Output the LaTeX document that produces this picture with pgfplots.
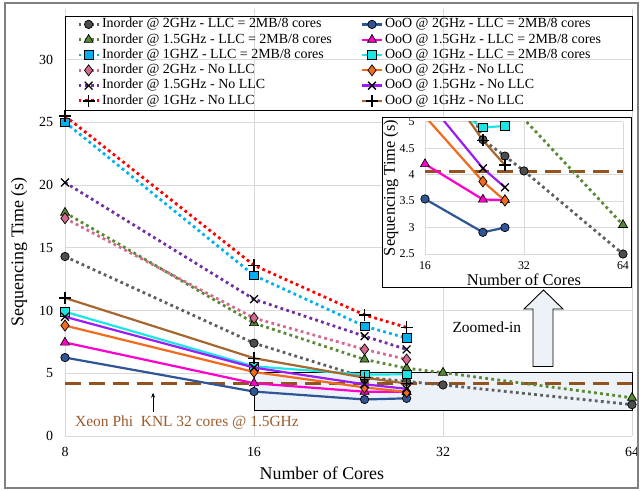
\documentclass[border=0pt]{standalone}
\usepackage{pgfplots}
\pgfplotsset{compat=1.18}
\usepackage{pgfplotstable}
\usepackage{fontspec}
\setmainfont{Liberation Serif}
\usetikzlibrary{arrows.meta}

\definecolor{cIaL}{HTML}{5F5F5F}\definecolor{cIaM}{HTML}{4D4D4D}
\definecolor{cIb}{HTML}{5A8A35}
\definecolor{cIc}{HTML}{00B0F0}
\definecolor{cId}{HTML}{D56A8E}
\definecolor{cIe}{HTML}{7030A0}
\definecolor{cIf}{HTML}{FF0000}
\definecolor{cOa}{HTML}{2F5597}
\definecolor{cOb}{HTML}{FF00CC}
\definecolor{cOc}{HTML}{1AE6E6}
\definecolor{cOd}{HTML}{F26B1D}
\definecolor{cOe}{HTML}{9B1DF5}
\definecolor{cOf}{HTML}{A5672F}
\definecolor{knlc}{HTML}{94521F}
\definecolor{knltext}{HTML}{9C5A2C}
\definecolor{gridc}{HTML}{D9D9D9}
\definecolor{boxfill}{HTML}{EDF2F9}
\definecolor{borderc}{HTML}{808080}

% Inorder series
\pgfplotstableread{
x y
8 14.3
16 7.4
24 4.66
28 4.35
32 4.07
64 2.5
}\dIa
\pgfplotstableread{
x y
8 17.8
16 9.0
24 6.1
28 5.4
32 5.05
64 3.05
}\dIb
\pgfplotstableread{
x y
8 25.0
16 12.8
24 8.75
28 7.8
}\dIc
\pgfplotstableread{
x y
8 17.35
16 9.4
24 6.9
28 6.1
}\dId
\pgfplotstableread{
x y
8 20.2
16 10.9
24 7.95
28 6.9
}\dIe
\pgfplotstableread{
x y
8 25.5
16 13.6
24 9.65
28 8.65
}\dIf
% OoO series
\pgfplotstableread{
x y
8 6.25
16 3.54
24 2.91
28 3.0
}\dOa
\pgfplotstableread{
x y
8 7.45
16 4.2
24 3.53
28 3.52
}\dOb
\pgfplotstableread{
x y
8 9.9
16 5.55
24 4.89
28 4.92
}\dOc
\pgfplotstableread{
x y
8 8.8
16 5.1
24 3.87
28 3.51
}\dOd
\pgfplotstableread{
x y
8 9.5
16 5.45
24 4.12
28 3.76
}\dOe
\pgfplotstableread{
x y
8 11.0
16 6.2
24 4.65
28 4.18
}\dOf

\pgfplotsset{
 inord/.style={line width=2.8bp, dash pattern=on 2.8bp off 3.3bp},
 ooo/.style={line width=2.2bp, solid},
 mkf/.style={mark options={solid, fill=#1, draw=black, line width=0.7bp}},
 mkl/.style={mark options={solid, draw=black, line width=1.3bp}},
 sIa/.style={inord, color=cIaL, mark=*, mark size=4.2bp, mkf=cIaM},
 sIb/.style={inord, color=cIb, mark=triangle*, mark size=5.2bp, mkf=cIb},
 sIc/.style={inord, color=cIc, mark=square*, mark size=4.3bp, mkf=cIc},
 sId/.style={inord, color=cId, mark=diamond*, mark size=5.5bp, mkf=cId},
 sIe/.style={inord, color=cIe, mark=x, mark size=5.5bp, mkl},
 sIf/.style={inord, color=cIf, mark=+, mark size=6bp, mkl},
 sOa/.style={ooo, color=cOa, mark=*, mark size=4.2bp, mkf=cOa},
 sOb/.style={ooo, color=cOb, mark=triangle*, mark size=5.2bp, mkf=cOb},
 sOc/.style={ooo, color=cOc, mark=square*, mark size=4.3bp, mkf=cOc},
 sOd/.style={ooo, color=cOd, mark=diamond*, mark size=5.5bp, mkf=cOd},
 sOe/.style={ooo, color=cOe, mark=x, mark size=5.5bp, mkl},
 sOf/.style={ooo, color=cOf, mark=+, mark size=6bp, mkl},
 knl/.style={color=knlc, line width=3bp, dash pattern=on 16bp off 8bp},
}

\begin{document}
\begin{tikzpicture}
\begin{axis}[
 name=main,
 scale only axis, width=567bp, height=426.7bp,
 xmode=log, log basis x=2, xmin=8, xmax=64,
 xtick={8,16,32,64}, xticklabels={8,16,32,64},
 ymin=0, ymax=34, ytick={0,5,...,30},
 grid=major, major grid style={color=gridc, line width=0.9bp},
 axis line style={draw=none}, major tick length=0,
 clip mode=individual,
 tick label style={font=\fontsize{14}{16}\selectfont},
 /pgf/number format/assume math mode=true,
 xticklabel style={yshift=-7.4bp}, yticklabel style={xshift=-8.3bp},
 xlabel={Number of Cores}, ylabel={Sequencing Time (s)},
 label style={font=\fontsize{18}{20}\selectfont},
 xlabel style={at={(axis description cs:0.453,-0.0867)}, anchor=center},
 ylabel style={at={(axis description cs:-0.081,0.432)}, anchor=center},
 legend columns=2,
 legend cell align=left,
 legend style={at={(0.0212,0.983)}, anchor=north west, draw=none, fill=none,
   inner sep=0pt, font=\fontsize{14}{15}\selectfont,
   nodes={inner xsep=2bp, inner ysep=0.7bp, text height=10.3bp, text depth=3.6bp},
   /tikz/every even column/.append style={column sep=27bp}},
 legend image code/.code={\draw[#1, mark repeat=2, mark phase=2] plot coordinates {(0bp,0bp) (10bp,0bp) (20bp,0bp)};},
]
% zoom region rectangle
\draw[fill=boxfill, draw=black, line width=0.9bp] (axis cs:16,2.0) rectangle (axis cs:64,5.05);
\addplot[knl, forget plot] coordinates {(8,4.15) (64,4.15)};

\addplot[sIa] table {\dIa}; \addlegendentry{Inorder @ 2GHz - LLC = 2MB/8 cores}
\addplot[sOa] table {\dOa}; \addlegendentry{OoO @ 2GHz - LLC = 2MB/8 cores}
\addplot[sIb] table {\dIb}; \addlegendentry{Inorder @ 1.5GHz - LLC = 2MB/8 cores}
\addplot[sOb] table {\dOb}; \addlegendentry{OoO @ 1.5GHz - LLC = 2MB/8 cores}
\addplot[sIc] table {\dIc}; \addlegendentry{Inorder @ 1GHZ - LLC = 2MB/8 cores}
\addplot[sOc] table {\dOc}; \addlegendentry{OoO @ 1GHz - LLC = 2MB/8 cores}
\addplot[sId] table {\dId}; \addlegendentry{Inorder @ 2GHz - No LLC}
\addplot[sOd] table {\dOd}; \addlegendentry{OoO @ 2GHz - No LLC}
\addplot[sIe] table {\dIe}; \addlegendentry{Inorder @ 1.5GHz - No LLC}
\addplot[sOe] table {\dOe}; \addlegendentry{OoO @ 1.5GHz - No LLC}
\addplot[sIf] table {\dIf}; \addlegendentry{Inorder @ 1GHz - No LLC}
\addplot[sOf] table {\dOf}; \addlegendentry{OoO @ 1GHz - No LLC}

% legend frame
\draw[black, line width=0.9bp] (rel axis cs:0,0.764) rectangle (rel axis cs:1,0.984);
% KNL annotation
\node[anchor=west, text=knltext, font=\fontsize{15.5}{17}\selectfont, inner sep=0pt] at (axis cs:8.3,1.06) {Xeon Phi\ \ KNL 32 cores @ 1.5GHz};
\draw[-{Stealth[length=5bp,width=4bp]}, line width=1.1bp] (axis cs:11.05,1.9) -- (axis cs:11.05,3.45);
% zoom arrow
\draw[fill=boxfill, draw=black, line width=0.9bp]
  (rel axis cs:0.8254,0.1629) -- (rel axis cs:0.8254,0.2976) -- (rel axis cs:0.8095,0.2976) --
  (rel axis cs:0.8439,0.3422) -- (rel axis cs:0.8783,0.2976) -- (rel axis cs:0.8607,0.2976) --
  (rel axis cs:0.8607,0.1629) -- cycle;
\node[font=\fontsize{15.5}{17}\selectfont] at (rel axis cs:0.744,0.2555) {Zoomed-in};
\coordinate (insetpos) at (rel axis cs:0.6349,0.4265);
\coordinate (boxsw) at (rel axis cs:0.5591,0.3492);
\coordinate (boxne) at (rel axis cs:0.9982,0.7476);
\end{axis}

% inset background box
\draw[black, line width=0.9bp, fill=white] (boxsw) rectangle (boxne);

\begin{axis}[
 name=inset,
 at={(insetpos)}, anchor=south west,
 scale only axis, width=198bp, height=132.3bp,
 xmode=log, log basis x=2, xmin=16, xmax=64,
 xtick={16,32,64}, xticklabels={16,32,64},
 ymin=2.5, ymax=5, ytick={2.5,3,3.5,4,4.5,5}, yticklabels={2.5,3,3.5,4,4.5,5},
 grid=major, major grid style={color=gridc, line width=0.9bp},
 axis line style={draw=none}, major tick length=0,
 clip mode=individual,
 tick label style={font=\fontsize{12}{14}\selectfont},
 xticklabel style={yshift=-4.5bp}, yticklabel style={xshift=-7bp},
 xlabel={Number of Cores}, ylabel={Sequencing Time (s)},
 label style={font=\fontsize{16.5}{18}\selectfont},
 xlabel style={at={(axis description cs:0.5,-0.1965)}, anchor=center},
 ylabel style={at={(axis description cs:-0.172,0.5)}, anchor=center},
]
\addplot[knl] coordinates {(16,4.06) (64,4.06)};
% lines
\addplot[sIa, no marks] table {\dIa};
\addplot[sIb, no marks] table {\dIb};
\addplot[sOa, no marks] table {\dOa};
\addplot[sOb, no marks] table {\dOb};
\addplot[sOc, no marks] table {\dOc};
\addplot[sOd, no marks] table {\dOd};
\addplot[sOe, no marks] table {\dOe};
\addplot[sOf, no marks] table {\dOf};
% marks within range
\addplot[sIa, only marks, restrict y to domain=2.4:5] table {\dIa};
\addplot[sIb, only marks, restrict y to domain=2.4:5] table {\dIb};
\addplot[sOa, only marks, restrict y to domain=2.4:5] table {\dOa};
\addplot[sOb, only marks, restrict y to domain=2.4:5] table {\dOb};
\addplot[sOc, only marks, restrict y to domain=2.4:5] table {\dOc};
\addplot[sOd, only marks, restrict y to domain=2.4:5] table {\dOd};
\addplot[sOe, only marks, restrict y to domain=2.4:5] table {\dOe};
\addplot[sOf, only marks, restrict y to domain=2.4:5] table {\dOf};
\end{axis}

\draw[color=borderc, line width=1.3bp] ([shift={(-60bp,-52bp)}]main.south west) rectangle ([shift={(6bp,6.3bp)}]main.north east);
\pgfresetboundingbox
\path[use as bounding box] ([shift={(-65bp,-55bp)}]main.south west) rectangle ([shift={(10bp,9.3bp)}]main.north east);
\end{tikzpicture}
\end{document}
